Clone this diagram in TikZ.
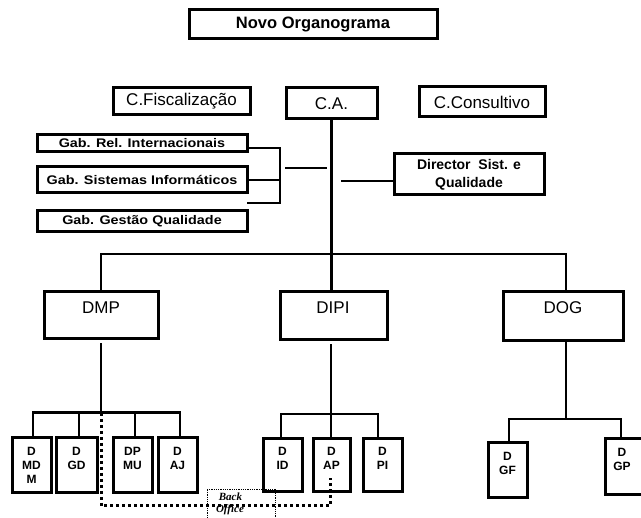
\documentclass[tikz,border=0pt]{standalone}
\usepackage{fontspec}
\setmainfont{Liberation Sans}
\newfontfamily\widebold[FakeStretch=1.15]{Liberation Sans}
\newfontfamily\boserif{Liberation Serif}
\begin{document}
\begin{tikzpicture}[x=1pt,y=-1pt,
  box/.style={draw, line width=3pt, inner sep=0pt, align=center},
  ln/.style={line width=2.7pt},
  dotln/.style={line width=3pt, dash pattern=on 3pt off 3pt},
  thindot/.style={line width=0.5pt, dash pattern=on 0.8pt off 1pt},
  rg/.style={font=\fontsize{17}{19}\selectfont},
  bd/.style={font=\fontsize{12.5}{14}\selectfont\widebold\bfseries},
  bt/.style={font=\fontsize{12}{14}\selectfont\bfseries, align=center, anchor=north, inner sep=0pt},
]
\useasboundingbox (0,0) rectangle (641,518);
% top
\node[box, minimum width=248, minimum height=29, font=\fontsize{16.5}{18}\selectfont\bfseries] (title) at (313,24.5) {Novo Organograma};
\node[box, rg, minimum width=137, minimum height=27] (cf) at (181.5,101.5) {C.Fiscalização};
\node[box, rg, minimum width=91, minimum height=31] (ca) at (331.5,103.5) {C.A.};
\node[box, rg, minimum width=126, minimum height=30] (cc) at (482,102) {C.Consultivo};
\node[box, bd, minimum width=210, minimum height=17] (gr) at (142,143.5) {Gab. Rel. Internacionais};
\node[box, bd, minimum width=210, minimum height=26] (gs) at (142,180) {Gab. Sistemas Informáticos};
\node[box, bd, minimum width=210, minimum height=21] (gg) at (142,221.5) {Gab. Gestão Qualidade};
\node[box, font=\fontsize{14}{18}\selectfont\bfseries, minimum width=150, minimum height=41] (dir) at (469,174.5) {Director\ \ Sist. e\\Qualidade};
% bracket
\coordinate (b1) at (280,148);
\coordinate (b2) at (280,203);
\coordinate (g3) at (247,203);
\draw[ln] (gr.east |- b1) -- (b1) -- (b2) -- (g3);
\draw[ln] (gs.east) -- (gs.east -| b1);
\coordinate (s1) at (285,168);
\coordinate (s2) at (327,168);
\draw[ln] (s1) -- (s2);
\coordinate (d1) at (341,181);
\draw[ln] (d1) -- (dir.west |- d1);
% level 2
\node[box, minimum width=114, minimum height=47] (dmp) at (101,315.5) {};
\node[rg] at (101,308) {DMP};
\node[box, minimum width=107, minimum height=48] (dipi) at (333.5,316) {};
\node[rg] at (333,308) {DIPI};
\node[box, minimum width=120, minimum height=49] (dog) at (563,316.5) {};
\node[rg] at (563,308) {DOG};
\coordinate (barL) at (101,254);
\coordinate (barM) at (331.5,254);
\coordinate (barR) at (566,254);
\draw[ln] (ca.south -| barM) -- (barM);
\draw[ln] (dmp.north -| barL) -- (barL) -- (barR) -- (dog.north -| barR);
\draw[ln] (barM) -- (dipi.north -| barM);
% DMP children
\node[box, minimum width=39, minimum height=55] (dmdm) at (31.5,465.5) {};
\node[bt] at (31.5,447) {D\\MD\\M};
\node[box, minimum width=41, minimum height=55] (dgd) at (76.5,465.5) {};
\node[bt] at (76.5,447) {D\\GD};
\node[box, minimum width=39, minimum height=55] (dpmu) at (132.5,465.5) {};
\node[bt] at (132.5,447) {DP\\MU};
\node[box, minimum width=39, minimum height=55] (daj) at (177.5,465.5) {};
\node[bt] at (177.5,447) {D\\AJ};
\coordinate (c1) at (101,412.5);
\coordinate (c1a) at (33,412.5);
\coordinate (c1b) at (180,412.5);
\draw[ln] (dmp.south -| c1) ++(0,3) -- (c1);
\draw[ln] (dmdm.north -| c1a) -- (c1a) -- (c1b) -- (daj.north -| c1b);
\draw[ln] (79,412.5) -- (dgd.north -| 79,0);
\draw[ln] (135,412.5) -- (dpmu.north -| 135,0);
% DIPI children
\node[box, minimum width=39, minimum height=53] (did) at (282.5,465.5) {};
\node[bt] at (282.5,447) {D\\ID};
\node[box, minimum width=37, minimum height=53] (dap) at (331.5,465.5) {};
\node[bt] at (331.5,447) {D\\AP};
\node[box, minimum width=39, minimum height=53] (dpi) at (382.5,465.5) {};
\node[bt] at (382.5,447) {D\\PI};
\coordinate (c2) at (331,414);
\coordinate (c2a) at (281,414);
\coordinate (c2b) at (378,414);
\draw[ln] (dipi.south -| c2) ++(0,3) -- (c2) -- (dap.north -| c2);
\draw[ln] (did.north -| c2a) -- (c2a) -- (c2b) -- (dpi.north -| c2b);
% DOG children
\node[box, minimum width=39, minimum height=55] (dgf) at (507.5,470.5) {};
\node[bt] at (507.5,452) {D\\GF};
\node[box, minimum width=38, minimum height=56] (dgp) at (624,467) {};
\node[bt] at (622,448) {D\\GP};
\coordinate (c3) at (566,419);
\coordinate (c3a) at (509,419);
\coordinate (c3b) at (621,419);
\draw[ln] (dog.south -| c3) -- (c3);
\draw[ln] (dgf.north -| c3a) -- (c3a) -- (c3b) -- (dgp.north -| c3b);
% back office
\node[draw, thindot, minimum width=68, minimum height=34, inner sep=0pt] (bo) at (241,506) {};
\node[font=\fontsize{11}{12.5}\selectfont\boserif\bfseries\itshape, align=left, inner sep=0pt] (bot) at (230,504) {\ Back\\Office};
\coordinate (e1) at (101,413);
\coordinate (e2) at (101,506);
\coordinate (e3) at (330,506);
\coordinate (e4) at (330,478);
\draw[dotln] (e1) -- (e2) -- (e3) -- (e4);
\end{tikzpicture}
\end{document}
